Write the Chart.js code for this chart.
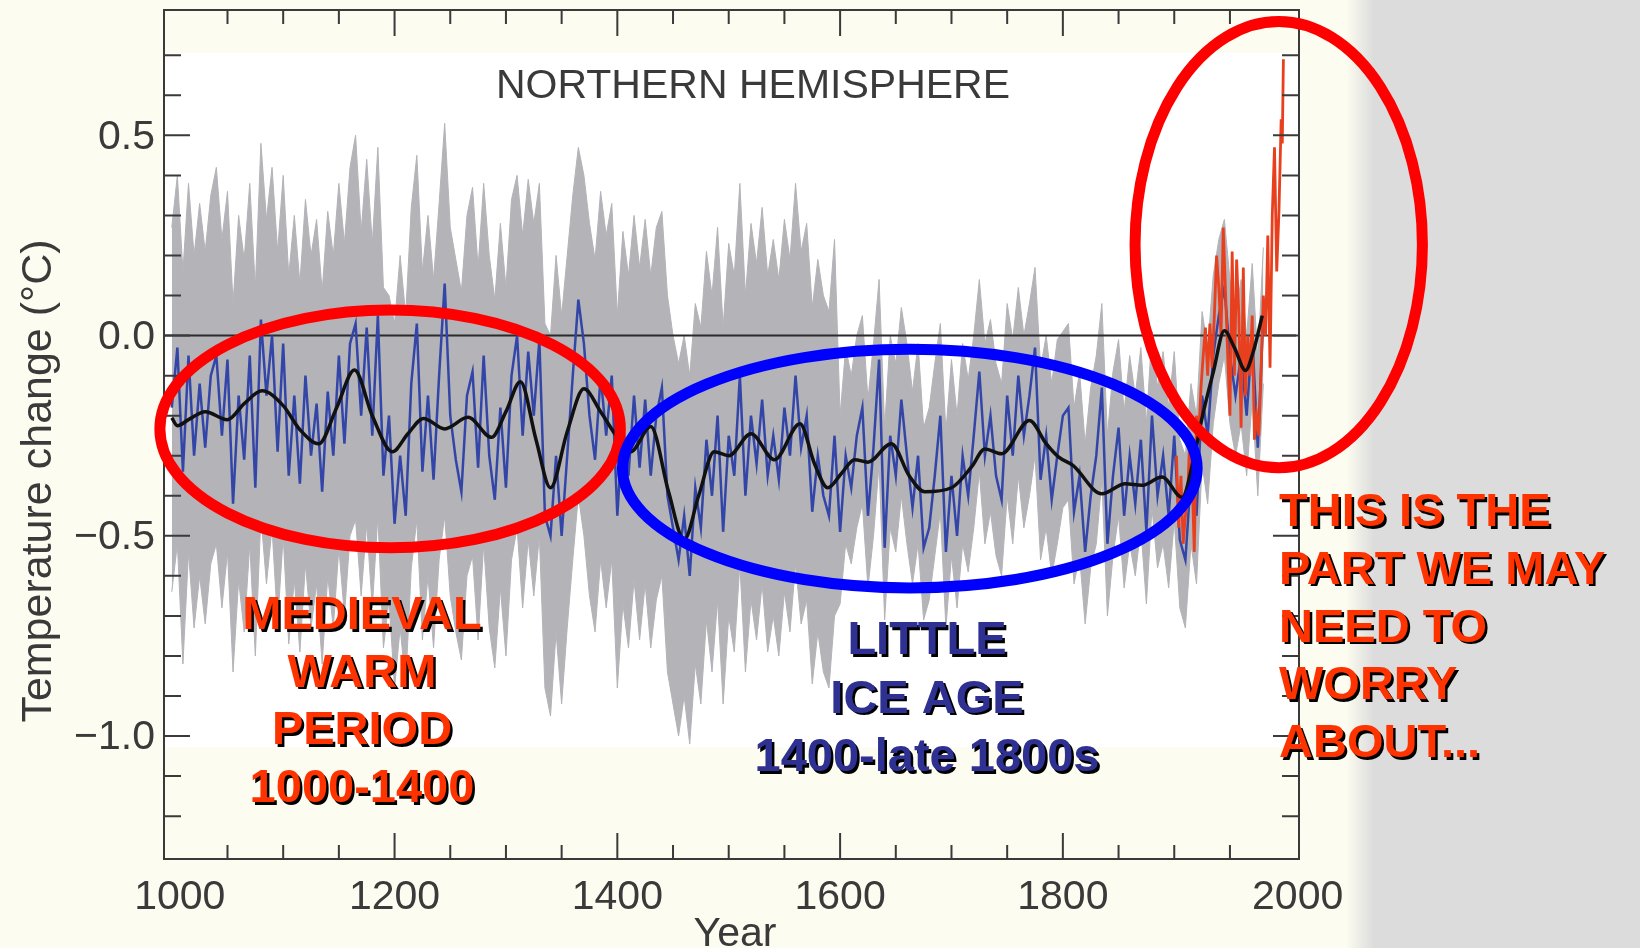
<!DOCTYPE html>
<html>
<head>
<meta charset="utf-8">
<script src="https://cdn.jsdelivr.net/npm/chart.js@4.4.1/dist/chart.umd.min.js"></script>
<style>
html,body{margin:0;padding:0;background:#fcfcf0;overflow:hidden}
canvas{display:block}
</style>
</head>
<body>
<canvas id="c" width="1640" height="948"></canvas>
<script>
// ---------------- DATA ----------------
const START_YEAR = 1000;
const STEP_YEARS = 5;

// Annual reconstruction (blue), sampled every 5 years 1000..1980
const reconstruction = [
  -0.18,-0.03,-0.34,-0.05,-0.30,-0.12,-0.28,-0.10,-0.05,-0.25,
  -0.06,-0.42,-0.15,-0.31,-0.05,-0.38, 0.04,-0.15, 0.00,-0.29,
  -0.02,-0.35,-0.15,-0.37,-0.10,-0.30,-0.17,-0.39,-0.14,-0.30,
  -0.05,-0.27,-0.02, 0.03,-0.20, 0.02,-0.25, 0.05,-0.35,-0.20,
  -0.47,-0.30,-0.45,-0.12, 0.03,-0.34,-0.15,-0.36,-0.10, 0.13,
  -0.20,-0.31,-0.39,-0.15,-0.09,-0.33,-0.05,-0.30,-0.41,-0.18,
  -0.38,-0.10, 0.00,-0.25,-0.04,-0.20,-0.01,-0.45,-0.50,-0.30,
  -0.50,-0.30,-0.10, 0.09,-0.02,-0.20,-0.31,-0.10,-0.25,-0.10,
  -0.45,-0.22,-0.35,-0.15,-0.33,-0.16,-0.35,-0.20,-0.13,-0.40,
  -0.48,-0.56,-0.45,-0.60,-0.38,-0.48,-0.26,-0.40,-0.20,-0.49,
  -0.25,-0.35,-0.10,-0.40,-0.20,-0.32,-0.16,-0.35,-0.25,-0.36,
  -0.18,-0.30,-0.10,-0.28,-0.20,-0.44,-0.30,-0.40,-0.45,-0.25,
  -0.49,-0.30,-0.38,-0.25,-0.18,-0.45,-0.28,-0.06,-0.53,-0.25,
  -0.35,-0.16,-0.30,-0.43,-0.30,-0.53,-0.48,-0.35,-0.20,-0.54,
  -0.35,-0.50,-0.30,-0.40,-0.25,-0.09,-0.30,-0.20,-0.35,-0.41,
  -0.15,-0.30,-0.10,-0.25,-0.15,-0.03,-0.36,-0.25,-0.41,-0.30,
  -0.20,-0.18,-0.44,-0.35,-0.54,-0.40,-0.30,-0.13,-0.52,-0.35,
  -0.23,-0.45,-0.30,-0.42,-0.26,-0.49,-0.20,-0.40,-0.30,-0.45,
  -0.25,-0.51,-0.56,-0.35,-0.45,-0.15,-0.25,-0.05, 0.05, 0.12,
  -0.05,-0.15,-0.05,-0.20, 0.00,-0.28, 0.05
];

// Upper edge of the grey uncertainty band, same years
const bandUpper = [
   0.27, 0.40, 0.16, 0.38, 0.20, 0.33, 0.21, 0.35, 0.42, 0.24,
   0.36, 0.08, 0.30, 0.19, 0.38, 0.12, 0.48, 0.29, 0.42, 0.21,
   0.40, 0.15, 0.30, 0.13, 0.34, 0.20, 0.29, 0.11, 0.31, 0.20,
   0.38, 0.23, 0.42, 0.50, 0.26, 0.44, 0.23, 0.47, 0.12, 0.10,
   0.03, 0.20, 0.05, 0.32, 0.45, 0.16, 0.30, 0.14, 0.33, 0.53,
   0.27, 0.19, 0.11, 0.30, 0.37, 0.17, 0.38, 0.20, 0.09, 0.28,
   0.12, 0.34, 0.40, 0.25, 0.39, 0.28, 0.38, 0.03, 0.00, 0.20,
   0.05, 0.20, 0.35, 0.47, 0.40, 0.28, 0.19, 0.36, 0.25, 0.33,
   0.05, 0.26, 0.15, 0.30, 0.17, 0.29, 0.15, 0.27, 0.31, 0.10,
   0.00,-0.07, 0.00,-0.10, 0.08, 0.02, 0.21, 0.10, 0.27, 0.02,
   0.23, 0.15, 0.38, 0.10, 0.28, 0.18, 0.32, 0.15, 0.24, 0.14,
   0.29, 0.19, 0.38, 0.21, 0.28, 0.07, 0.19, 0.10, 0.06, 0.24,
  -0.20,-0.03,-0.10, 0.00, 0.05,-0.16,-0.02, 0.14,-0.23, 0.00,
  -0.07, 0.07,-0.02,-0.14,-0.02,-0.23,-0.18,-0.07, 0.03,-0.24,
  -0.06,-0.20,-0.02,-0.11, 0.00, 0.14,-0.02, 0.04,-0.07,-0.12,
   0.08,-0.01, 0.12, 0.00, 0.08, 0.17,-0.08, 0.00,-0.12,-0.01,
   0.01, 0.03,-0.18,-0.09,-0.27,-0.13,-0.05, 0.08,-0.25,-0.09,
  -0.01,-0.19,-0.05,-0.15,-0.03,-0.22, 0.01,-0.13,-0.04,-0.18,
  -0.04,-0.26,-0.30,-0.12,-0.20, 0.06,-0.03, 0.15, 0.24, 0.29,
   0.14, 0.05, 0.14, 0.00, 0.18,-0.06, 0.22
];

// Lower edge of the grey uncertainty band, same years
const bandLower = [
  -0.64,-0.52,-0.82,-0.54,-0.73,-0.60,-0.72,-0.57,-0.52,-0.68,
  -0.54,-0.84,-0.61,-0.74,-0.52,-0.80,-0.45,-0.62,-0.48,-0.72,
  -0.50,-0.77,-0.61,-0.79,-0.57,-0.73,-0.62,-0.82,-0.60,-0.73,
  -0.53,-0.70,-0.50,-0.46,-0.65,-0.47,-0.68,-0.45,-0.78,-0.66,
  -0.88,-0.73,-0.87,-0.58,-0.46,-0.76,-0.60,-0.78,-0.56,-0.45,
  -0.65,-0.74,-0.81,-0.60,-0.55,-0.76,-0.52,-0.73,-0.83,-0.63,
  -0.80,-0.56,-0.48,-0.68,-0.51,-0.65,-0.50,-0.88,-0.95,-0.74,
  -0.92,-0.73,-0.56,-0.40,-0.50,-0.65,-0.74,-0.56,-0.68,-0.56,
  -0.88,-0.67,-0.78,-0.61,-0.76,-0.62,-0.78,-0.66,-0.60,-0.84,
  -0.92,-1.00,-0.90,-1.02,-0.82,-0.92,-0.71,-0.84,-0.66,-0.92,
  -0.70,-0.79,-0.57,-0.84,-0.66,-0.76,-0.62,-0.79,-0.70,-0.80,
  -0.64,-0.74,-0.57,-0.72,-0.66,-0.87,-0.74,-0.84,-0.88,-0.70,
  -0.67,-0.52,-0.57,-0.48,-0.42,-0.63,-0.50,-0.32,-0.71,-0.48,
  -0.54,-0.40,-0.52,-0.62,-0.52,-0.71,-0.66,-0.55,-0.44,-0.73,
  -0.55,-0.68,-0.52,-0.59,-0.48,-0.34,-0.52,-0.44,-0.55,-0.60,
  -0.40,-0.52,-0.35,-0.48,-0.40,-0.30,-0.56,-0.48,-0.60,-0.52,
  -0.43,-0.41,-0.62,-0.55,-0.72,-0.58,-0.52,-0.36,-0.70,-0.55,
  -0.45,-0.63,-0.52,-0.60,-0.48,-0.67,-0.43,-0.58,-0.52,-0.63,
  -0.46,-0.68,-0.73,-0.52,-0.62,-0.32,-0.42,-0.22,-0.12,-0.05,
  -0.22,-0.30,-0.22,-0.35,-0.16,-0.40,-0.12
];

// Smoothed reconstruction (black), read at turning points
const smoothYears = [1000,1005,1015,1030,1050,1065,1081,1100,1115,1132,1148,1164,1180,1198,1212,1226,1245,1266,1287,1300,
  1313,1327,1340,1355,1370,1385,1400,1412,1430,1446,1460,1473,1487,1500,1520,1541,1564,1577,1589,1601,
  1613,1625,1646,1662,1676,1700,1718,1730,1745,1770,1785,1796,1809,1835,1856,1871,1889,1907,1918,1925,
  1935,1945,1954,1964,1971,1979];
const smoothValues = [-0.205,-0.225,-0.21,-0.19,-0.21,-0.17,-0.138,-0.175,-0.235,-0.27,-0.18,-0.086,-0.20,-0.29,-0.245,-0.207,-0.233,-0.204,-0.254,-0.19,
  -0.115,-0.26,-0.38,-0.24,-0.133,-0.19,-0.254,-0.29,-0.227,-0.39,-0.51,-0.40,-0.29,-0.30,-0.245,-0.31,-0.22,-0.32,-0.38,-0.345,
  -0.31,-0.316,-0.27,-0.35,-0.39,-0.38,-0.328,-0.283,-0.295,-0.212,-0.27,-0.303,-0.324,-0.395,-0.37,-0.374,-0.353,-0.404,-0.30,-0.205,
  -0.092,0.012,-0.03,-0.087,-0.04,0.05];

// Instrumental record (red)
const instrumentalYears = [1902,1904,1906,1908,1910,1912,1914,1916,1918,1920,1922,1924,1926,1928,1930,1932,1934,1936,1938,1940,
  1942,1944,1946,1948,1950,1952,1954,1956,1958,1960,1962,1964,1966,1968,1970,1972,1974,1976,1978,1980,
  1982,1984,1986,1988,1990,1992,1994,1996,1997,1998];
const instrumentalValues = [-0.30,-0.48,-0.35,-0.52,-0.45,-0.40,-0.25,-0.35,-0.54,-0.20,-0.25,-0.13,-0.05,0.02,-0.10,0.03,-0.08,0.05,0.20,0.12,
  0.00,0.27,0.11,-0.05,-0.20,0.21,-0.10,0.19,0.05,-0.23,0.17,-0.15,0.00,-0.10,0.05,-0.26,-0.20,-0.25,-0.08,0.10,
  0.00,0.25,-0.08,0.30,0.47,0.16,0.31,0.54,0.48,0.69];

// Axis ticks and labels
const xMajorTicks = [1200,1400,1600,1800];
const xMinorTicks = [1050,1100,1150,1250,1300,1350,1450,1500,1550,1650,1700,1750,1850,1900,1950];
const xTickLabels = [1000,1200,1400,1600,1800,2000];
const yMajorTicks = [-1.0,-0.5,0.0,0.5];
const yMinorTicks = [-1.2,-1.1,-0.9,-0.8,-0.7,-0.6,-0.4,-0.3,-0.2,-0.1,0.1,0.2,0.3,0.4,0.6,0.7];
const yTickLabels = [0.5,0.0,-0.5,-1.0];

// ---------------- BUILD ----------------
const years = reconstruction.map((_, i) => START_YEAR + STEP_YEARS * i);
const pts = (xs, ys) => xs.map((x, i) => ({x, y: ys[i]}));

const AXIS_COLOR = '#3a3a3a';
const FONT = '"Liberation Sans", Arial, Helvetica, sans-serif';
const BAND_COLOR = '#b3b3b8';

const decor = {
  id: 'decor',
  beforeDraw(chart) {
    const {ctx, chartArea: a, scales: {y}} = chart;
    ctx.save();
    ctx.fillStyle = '#fcfcf0';
    ctx.fillRect(0, 0, chart.width, chart.height);
    const g = ctx.createLinearGradient(1346, 0, 1374, 0);
    g.addColorStop(0, 'rgba(220,220,220,0)');
    g.addColorStop(1, '#dcdcdc');
    ctx.fillStyle = g;
    ctx.fillRect(1346, 0, chart.width - 1346, chart.height);
    // white plotting panel
    const top = y.getPixelForValue(0.706), bot = y.getPixelForValue(-1.028);
    ctx.fillStyle = '#ffffff';
    ctx.fillRect(a.left, top, a.right - a.left, bot - top);
    ctx.restore();
  },
  beforeDatasetDraw(chart, args) {
    if (args.index !== 2) return;
    const {ctx, chartArea: a, scales: {y}} = chart;
    const py = y.getPixelForValue(0);
    ctx.save();
    ctx.strokeStyle = '#2b2b2b';
    ctx.lineWidth = 2;
    ctx.beginPath();
    ctx.moveTo(a.left, py);
    ctx.lineTo(a.right - 3, py);
    ctx.stroke();
    ctx.restore();
  },
  afterDraw(chart) {
    const {ctx, chartArea: a, scales: {x, y}} = chart;
    ctx.save();
    // frame
    ctx.strokeStyle = AXIS_COLOR;
    ctx.lineWidth = 2;
    ctx.strokeRect(a.left, a.top, a.right - a.left, a.bottom - a.top);
    // ticks (inward)
    const vt = (v, len) => {
      const px = x.getPixelForValue(v);
      ctx.beginPath();
      ctx.moveTo(px, a.bottom); ctx.lineTo(px, a.bottom - len);
      ctx.moveTo(px, a.top); ctx.lineTo(px, a.top + len);
      ctx.stroke();
    };
    const ht = (v, len) => {
      const py = y.getPixelForValue(v);
      ctx.beginPath();
      ctx.moveTo(a.left, py); ctx.lineTo(a.left + len, py);
      ctx.moveTo(a.right, py); ctx.lineTo(a.right - len, py);
      ctx.stroke();
    };
    xMajorTicks.forEach(v => vt(v, 26));
    xMinorTicks.forEach(v => vt(v, 14));
    yMajorTicks.forEach(v => ht(v, 26));
    yMinorTicks.forEach(v => ht(v, 17));

    // tick labels
    ctx.fillStyle = AXIS_COLOR;
    ctx.font = '41px ' + FONT;
    ctx.textAlign = 'center';
    ctx.textBaseline = 'alphabetic';
    xTickLabels.forEach(v => {
      let px = x.getPixelForValue(v);
      if (v === 1000) px += 8;
      if (v === 2000) px += 12;
      ctx.fillText(String(v), px, 909);
    });
    ctx.textAlign = 'right';
    ctx.textBaseline = 'middle';
    yTickLabels.forEach(v => {
      const s = v.toFixed(1).replace('-', '\u2212');
      ctx.fillText(s, 155, y.getPixelForValue(v) + 2);
    });

    // axis titles
    ctx.textAlign = 'center';
    ctx.textBaseline = 'alphabetic';
    ctx.fillText('Year', 735, 946);
    ctx.save();
    ctx.font = '43px ' + FONT;
    ctx.translate(51, 481);
    ctx.rotate(-Math.PI / 2);
    ctx.fillText('Temperature change (°C)', 0, 0);
    ctx.restore();

    // panel title
    ctx.font = '41px ' + FONT;
    ctx.fillText('NORTHERN HEMISPHERE', 753, 98);

    // ellipses (in data units)
    const ell = (cx, rx, cy, ry, color) => {
      const px = x.getPixelForValue(cx), py = y.getPixelForValue(cy);
      const prx = x.getPixelForValue(cx + rx) - px;
      const pry = py - y.getPixelForValue(cy + ry);
      ctx.beginPath();
      ctx.ellipse(px, py, prx, pry, 0, 0, Math.PI * 2);
      ctx.strokeStyle = color;
      ctx.lineWidth = 11;
      ctx.stroke();
    };
    ell(1196, 206.7, -0.233, 0.297, '#ff0000');
    ell(1662.6, 258, -0.332, 0.298, '#0000ff');
    ell(1993.8, 129, 0.227, 0.557, '#ff0000');

    // annotation texts with drop shadow
    const shadowText = (lines, x0, y0, dy, color, align) => {
      ctx.font = 'bold 47px ' + FONT;
      ctx.textAlign = align;
      ctx.textBaseline = 'alphabetic';
      lines.forEach((t, i) => {
        const yy = y0 + i * dy;
        ctx.fillStyle = '#000000';
        ctx.fillText(t, x0 + 2.5, yy + 2.5);
        ctx.fillStyle = color;
        ctx.fillText(t, x0, yy);
      });
    };
    shadowText(['MEDIEVAL', 'WARM', 'PERIOD', '1000-1400'], 362, 629, 57.7, '#ff3300', 'center');
    shadowText(['LITTLE', 'ICE AGE', '1400-late 1800s'], 927, 654, 58.5, '#2e3192', 'center');
    shadowText(['THIS IS THE', 'PART WE MAY', 'NEED TO', 'WORRY', 'ABOUT...'], 1279, 526, 57.8, '#ff3300', 'left');
    ctx.restore();
  }
};

new Chart(document.getElementById('c'), {
  type: 'line',
  data: {
    datasets: [
      { label: 'smoothed', data: pts(smoothYears, smoothValues), order: 0,
        borderColor: '#111111', borderWidth: 3.5, cubicInterpolationMode: 'monotone', fill: false },
      { label: 'instrumental', data: pts(instrumentalYears, instrumentalValues), order: 1,
        borderColor: '#e8401e', borderWidth: 2.8, tension: 0, fill: false },
      { label: 'reconstruction', data: pts(years, reconstruction), order: 2,
        borderColor: '#3346a8', borderWidth: 2.5, tension: 0, fill: false },
      { label: 'upper', data: pts(years, bandUpper), order: 3,
        borderColor: BAND_COLOR, borderWidth: 1, backgroundColor: BAND_COLOR, fill: '+1', tension: 0 },
      { label: 'lower', data: pts(years, bandLower), order: 4,
        borderColor: BAND_COLOR, borderWidth: 1, fill: false, tension: 0 }
    ]
  },
  options: {
    responsive: false,
    animation: false,
    devicePixelRatio: 1,
    layout: { padding: { left: 164, right: 341, top: 10, bottom: 89 } },
    plugins: { legend: { display: false }, tooltip: { enabled: false }, title: { display: false } },
    elements: { point: { radius: 0 }, line: { borderJoinStyle: 'miter' } },
    scales: {
      x: { type: 'linear', min: 993, max: 2012, display: false },
      y: { type: 'linear', min: -1.307, max: 0.813, display: false }
    }
  },
  plugins: [decor]
});
</script>
</body>
</html>
